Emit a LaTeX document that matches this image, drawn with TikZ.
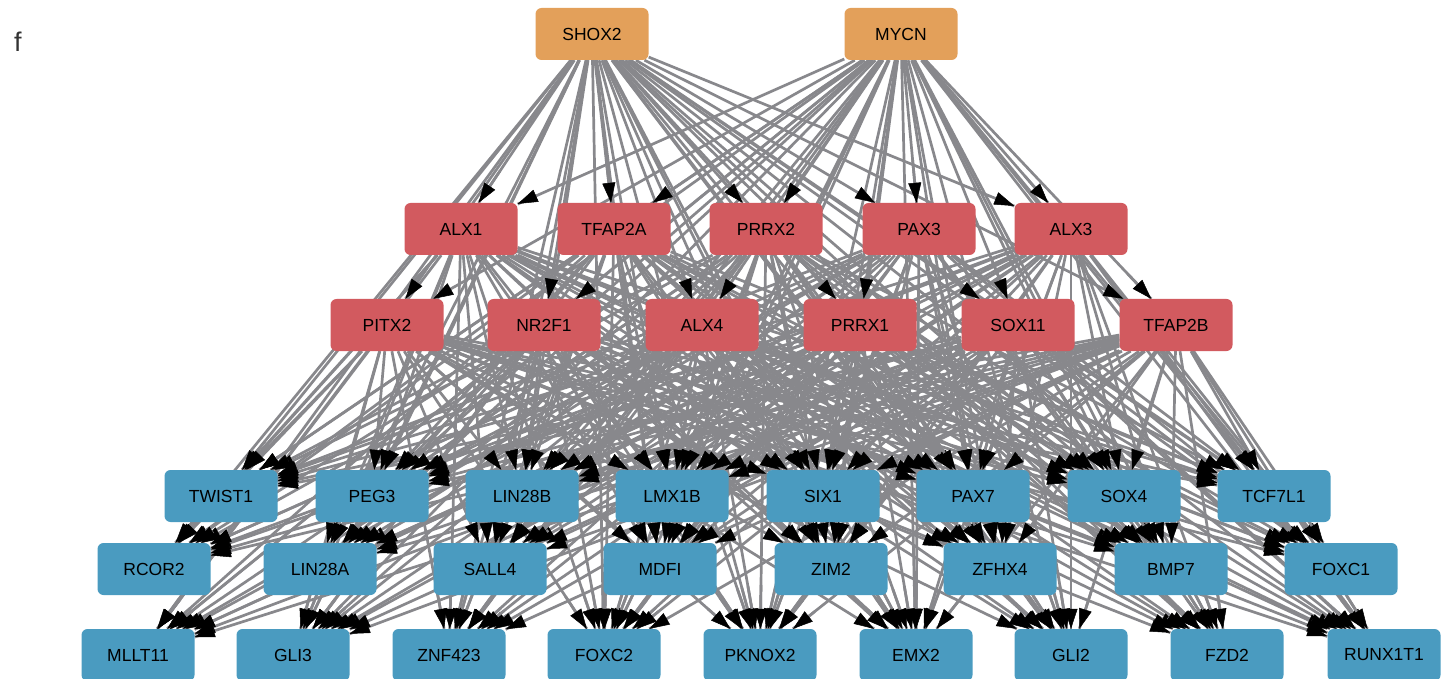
\documentclass[tikz,border=0pt]{standalone}
\usepackage{fontspec}
\setmainfont{Liberation Sans}
\usetikzlibrary{arrows.meta,calc,backgrounds}
\definecolor{orn}{HTML}{E3A05A}
\definecolor{rd}{HTML}{D25A5F}
\definecolor{bl}{HTML}{4A9BC0}
\definecolor{eg}{HTML}{88888C}
\begin{document}
\begin{tikzpicture}[x=1pt,y=-1pt,
  gene/.style={rectangle, rounded corners=6pt, minimum width=113pt, minimum height=52pt, inner sep=0pt, text=black, font=\fontsize{17.5}{20}\selectfont},
  topg/.style={gene, fill=orn},
  tfg/.style={gene, fill=rd},
  tgg/.style={gene, fill=bl},
  edgeline/.style={draw=eg, line width=2.7pt},
  edgetip/.style={draw=eg, line width=2.7pt, -{Triangle[length=20pt,width=13pt,color=black,line width=0.5pt]}}]
\useasboundingbox (0,0) rectangle (1452,679);
\node[text=black!80, font=\fontsize{27}{30}\selectfont, anchor=center] (flab) at (18,42) {f};
% row 1
\node[topg] (shox2) at (592,34) {SHOX2};
\node[topg] (mycn) at (901,34) {MYCN};
% row 2
\node[tfg] (alx1) at (461,229) {ALX1};
\node[tfg] (tfap2a) at (614,229) {TFAP2A};
\node[tfg] (prrx2) at (766,229) {PRRX2};
\node[tfg] (pax3) at (919,229) {PAX3};
\node[tfg] (alx3) at (1071,229) {ALX3};
% row 3
\node[tfg] (pitx2) at (387,325) {PITX2};
\node[tfg] (nr2f1) at (544,325) {NR2F1};
\node[tfg] (alx4) at (702,325) {ALX4};
\node[tfg] (prrx1) at (860,325) {PRRX1};
\node[tfg] (sox11) at (1018,325) {SOX11};
\node[tfg] (tfap2b) at (1176,325) {TFAP2B};
% row 4
\node[tgg] (twist1) at (221,496) {TWIST1};
\node[tgg] (peg3) at (372,496) {PEG3};
\node[tgg] (lin28b) at (522,496) {LIN28B};
\node[tgg] (lmx1b) at (672,496) {LMX1B};
\node[tgg] (six1) at (823,496) {SIX1};
\node[tgg] (pax7) at (973,496) {PAX7};
\node[tgg] (sox4) at (1124,496) {SOX4};
\node[tgg] (tcf7l1) at (1274,496) {TCF7L1};
% row 5
\node[tgg] (rcor2) at (154,569) {RCOR2};
\node[tgg] (lin28a) at (320,569) {LIN28A};
\node[tgg] (sall4) at (490,569) {SALL4};
\node[tgg] (mdfi) at (660,569) {MDFI};
\node[tgg] (zim2) at (831,569) {ZIM2};
\node[tgg] (zfhx4) at (1000,569) {ZFHX4};
\node[tgg] (bmp7) at (1171,569) {BMP7};
\node[tgg] (foxc1) at (1341,569) {FOXC1};
% row 6
\node[tgg] (mllt11) at (138,655) {MLLT11};
\node[tgg] (gli3) at (293,655) {GLI3};
\node[tgg] (znf423) at (449,655) {ZNF423};
\node[tgg] (foxc2) at (604,655) {FOXC2};
\node[tgg] (pknox2) at (760,655) {PKNOX2};
\node[tgg] (emx2) at (916,655) {EMX2};
\node[tgg] (gli2) at (1071,655) {GLI2};
\node[tgg] (fzd2) at (1227,655) {FZD2};
\node[tgg] (runx1t1) at (1384,655) {RUNX1T1};
\begin{pgfonlayer}{background}
  % lines
  \foreach \s in {shox2,mycn}
    \foreach \t in {alx1,tfap2a,prrx2,pax3,alx3,pitx2,nr2f1,alx4,prrx1,sox11,tfap2b}
      \draw[edgeline] (\s) -- (\t);
  \foreach \s in {shox2,mycn,alx1,tfap2a,prrx2,pax3,alx3,pitx2,nr2f1,alx4,prrx1,sox11,tfap2b}
    \foreach \t in {twist1,peg3,lin28b,lmx1b,six1,pax7,sox4,tcf7l1,rcor2,lin28a,sall4,mdfi,zim2,zfhx4,bmp7,foxc1,mllt11,gli3,znf423,foxc2,pknox2,emx2,gli2,fzd2,runx1t1}
      \draw[edgeline] (\s) -- (\t);
  % arrowheads on top
  \foreach \s in {shox2,mycn}
    \foreach \t in {alx1,tfap2a,prrx2,pax3,alx3,pitx2,nr2f1,alx4,prrx1,sox11,tfap2b}
      \draw[edgetip] ($(\t)!70pt!(\s)$) -- (\t);
  \foreach \s in {shox2,mycn,alx1,tfap2a,prrx2,pax3,alx3,pitx2,nr2f1,alx4,prrx1,sox11,tfap2b}
    \foreach \t in {twist1,peg3,lin28b,lmx1b,six1,pax7,sox4,tcf7l1,rcor2,lin28a,sall4,mdfi,zim2,zfhx4,bmp7,foxc1,mllt11,gli3,znf423,foxc2,pknox2,emx2,gli2,fzd2,runx1t1}
      \draw[edgetip] ($(\t)!70pt!(\s)$) -- (\t);
\end{pgfonlayer}
\end{tikzpicture}
\end{document}
